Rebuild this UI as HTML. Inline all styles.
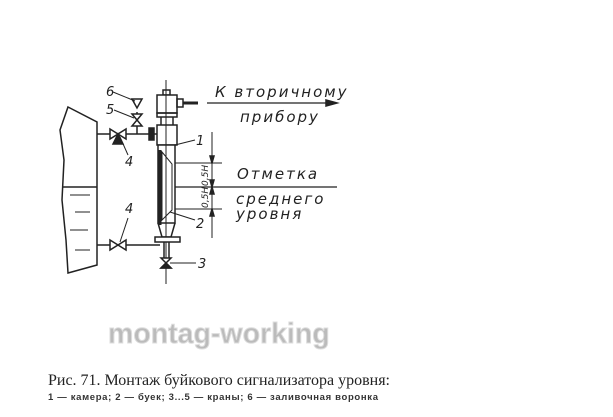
<!DOCTYPE html>
<html><head><meta charset="utf-8"><style>
body{margin:0;background:#fff;width:613px;height:417px;overflow:hidden;position:relative}
svg{position:absolute;left:0;top:0}
.i{font-family:"DejaVu Sans","Liberation Sans",sans-serif;font-style:italic;font-size:15px;letter-spacing:2px;fill:#222}
.n{font-family:"DejaVu Sans","Liberation Sans",sans-serif;font-style:italic;font-size:13px;fill:#222}
</style></head><body>
<svg width="613" height="417" viewBox="0 0 613 417" fill="none" stroke="#222" stroke-width="1.5">
<path d="M68,107 L97,122 L97,265 L68,273 L66,240 L62,200 L64,160 L60,130 Z" fill="#fff"/>
<line x1="63" y1="187" x2="97" y2="187"/>
<g stroke-width="1"><line x1="70" y1="195" x2="90" y2="195"/><line x1="75" y1="212" x2="90" y2="212"/><line x1="70" y1="230" x2="88" y2="230"/><line x1="75" y1="250" x2="90" y2="250"/></g>
<line x1="97" y1="134" x2="157" y2="134"/><line x1="97" y1="245" x2="160" y2="245"/>
<rect x="149" y="128" width="5" height="12" fill="#222"/>
<path d="M110,129 L126,139 L126,129 L110,139 Z" fill="#fff"/><path d="M118,134 L113,144 L123,144Z" fill="#222"/>
<path d="M110,240 L126,250 L126,240 L110,250 Z" fill="#fff"/>
<line x1="137" y1="134" x2="137" y2="112"/>
<path d="M132,114 L142,126 L132,126 L142,114 Z" fill="#fff"/>
<path d="M132,99 L142,99 L137,108 Z" fill="#fff"/>
<line x1="113" y1="92" x2="135" y2="101" stroke-width="1"/><line x1="114" y1="110" x2="134" y2="118" stroke-width="1"/>
<rect x="163" y="90" width="7" height="5"/>
<rect x="157" y="95" width="20" height="18" fill="#fff"/>
<rect x="157" y="113" width="20" height="4"/>
<rect x="177" y="99" width="6" height="8"/><line x1="183" y1="103" x2="198" y2="103" stroke-width="3"/>
<line x1="161" y1="117" x2="161" y2="125"/><line x1="173" y1="117" x2="173" y2="125"/>
<rect x="157" y="125" width="20" height="20" fill="#fff"/>
<rect x="158" y="145" width="17" height="78" fill="#fff"/>
<line x1="166" y1="80" x2="166" y2="284" stroke-width="1"/>
<path d="M162,152 L172,164 L172,210 L162,220 Z" stroke-width="1"/>
<line x1="160" y1="150" x2="160" y2="225" stroke-width="3"/>
<path d="M158,223 L162,237 L171,237 L175,223"/>
<rect x="155" y="237" width="25" height="5" fill="#fff"/>
<line x1="164" y1="242" x2="164" y2="258"/><line x1="169" y1="242" x2="169" y2="258"/>
<path d="M161,258 L171,268 L161,268 L171,258 Z" fill="#fff"/><path d="M166,263 L161,268 L171,268Z" fill="#222"/>
<line x1="175" y1="145" x2="195" y2="140" stroke-width="1"/>
<line x1="170" y1="212" x2="195" y2="220" stroke-width="1"/>
<line x1="170" y1="263" x2="196" y2="263" stroke-width="1"/>
<line x1="120" y1="137" x2="128" y2="155" stroke-width="1"/>
<line x1="120" y1="242" x2="128" y2="218" stroke-width="1"/>
<line x1="207" y1="103" x2="332" y2="103" stroke-width="1.2"/>
<path d="M337,103 L326,100 L326,106 Z" fill="#222"/>
<line x1="212" y1="132" x2="212" y2="238" stroke-width="1"/>
<line x1="175" y1="163" x2="222" y2="163" stroke-width="1"/>
<line x1="175" y1="187" x2="337" y2="187" stroke-width="1.2"/>
<line x1="175" y1="209" x2="222" y2="209" stroke-width="1"/>
<path d="M212,163 L210,156 L214,156Z M212,187 L210,180 L214,180Z M212,187 L210,194 L214,194Z M212,209 L210,216 L214,216Z" fill="#222"/>
<g stroke="none">
<text class="i" x="215" y="97">К вторичному</text>
<text class="i" x="240" y="122">прибору</text>
<text class="i" x="237" y="179">Отметка</text>
<text class="i" x="236" y="204">среднего</text>
<text class="i" x="236" y="219">уровня</text>
<text class="n" x="106" y="96">6</text><text class="n" x="106" y="114">5</text>
<text class="n" x="125" y="166">4</text><text class="n" x="125" y="213">4</text>
<text class="n" x="196" y="145">1</text><text class="n" x="196" y="228">2</text><text class="n" x="198" y="268">3</text>
<text class="n" style="font-size:9px" transform="translate(208,186) rotate(-90)">0,5H</text>
<text class="n" style="font-size:9px" transform="translate(208,208) rotate(-90)">0,5H</text>
<text x="108" y="343" font-family="Liberation Sans,sans-serif" font-weight="bold" font-size="28.5" fill="#bbb" stroke="#ddd" stroke-width="1">montag-working</text>
<text x="48" y="385" font-family="Liberation Serif,serif" font-size="16" fill="#222" textLength="342">Рис. 71. Монтаж буйкового сигнализатора уровня:</text>
<text x="48" y="400" font-family="Liberation Sans,sans-serif" font-size="9.5" font-weight="bold" fill="#333" textLength="330">1 — камера; 2 — буек; 3...5 — краны; 6 — заливочная воронка</text>
</g>
</svg>
</body></html>
